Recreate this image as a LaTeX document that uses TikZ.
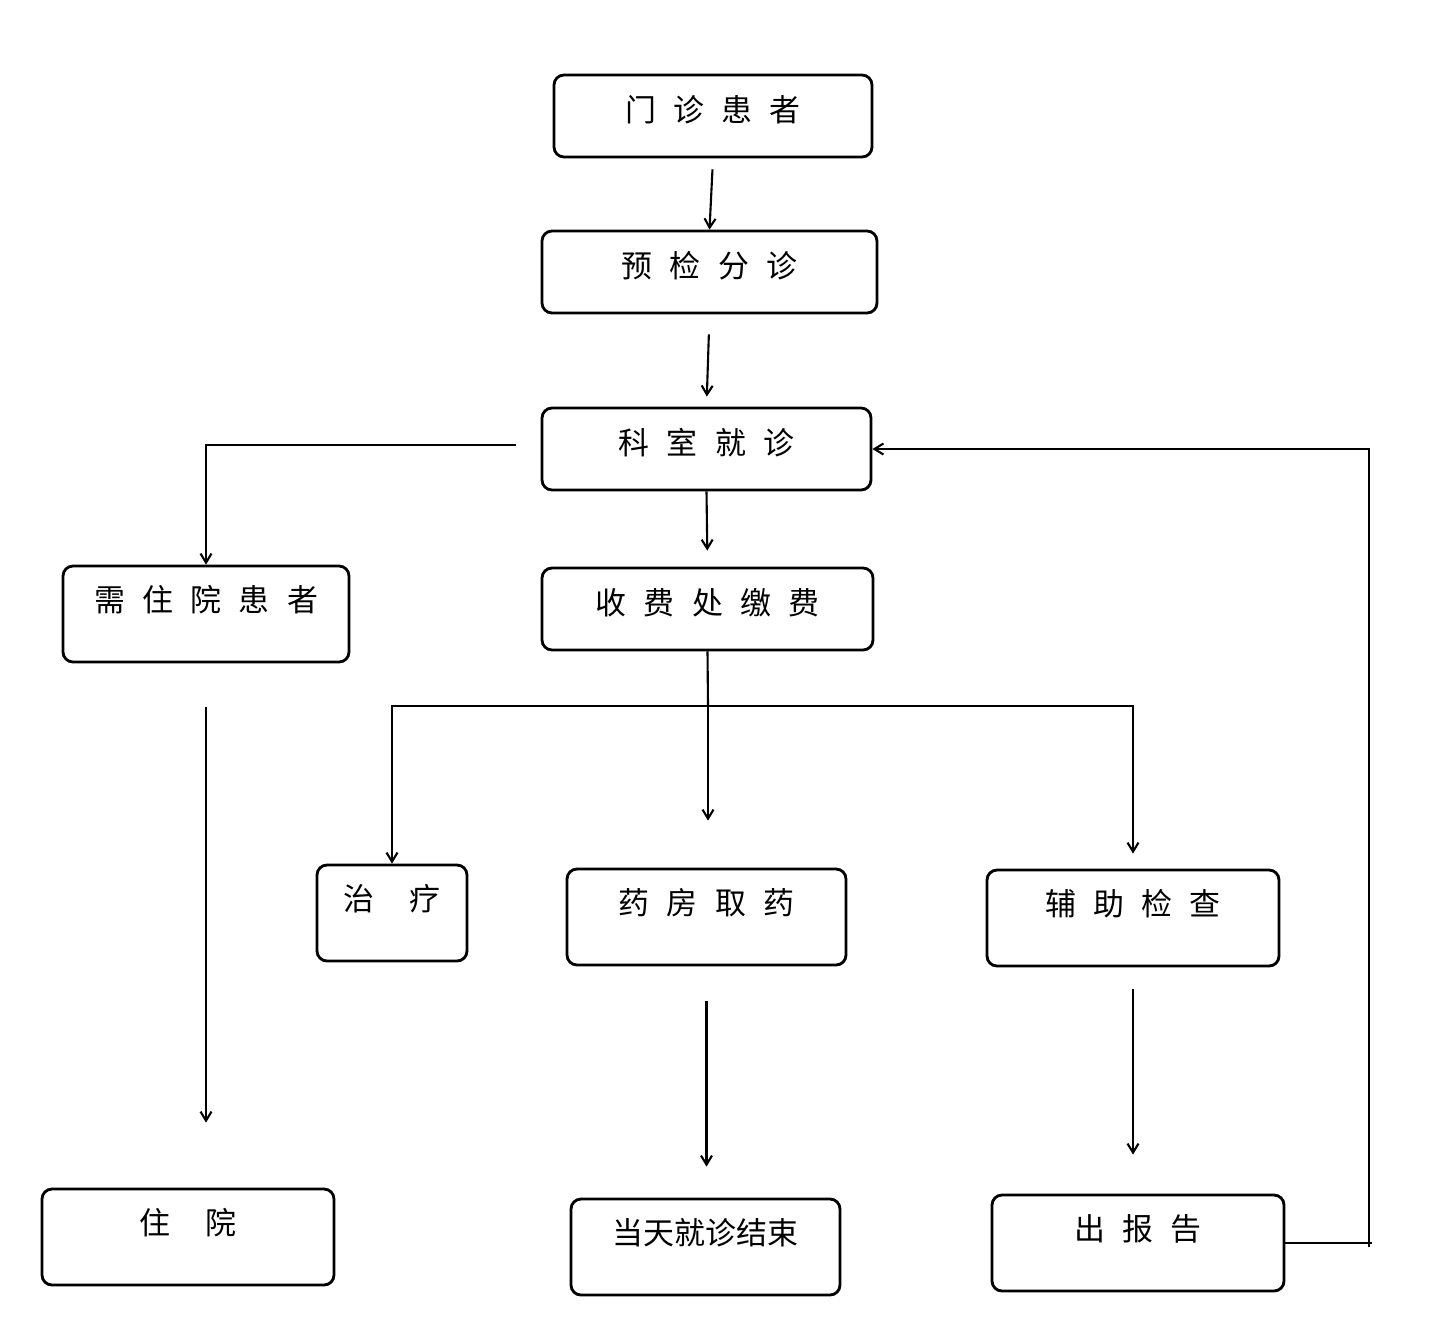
\documentclass[tikz,border=0pt]{standalone}
\usepackage{fontspec}
\newfontfamily\cjk[WordSpace=2.5]{Noto Sans CJK SC}
\usetikzlibrary{arrows.meta}
\tikzset{
  box/.style={draw=black, thick, rounded corners=0.1cm, inner sep=0pt,
    font=\cjk\fontsize{8.8pt}{10pt}\selectfont, text height=0.24cm,
    minimum height=0.82cm, text depth=0.124cm},
  tallbox/.style={box, minimum height=0.96cm, text depth=0.284cm},
  arr/.style={semithick, -{Straight Barb[length=0.09cm,width=0.11cm]}},
  line/.style={semithick}
}
\begin{document}
\begin{tikzpicture}
\useasboundingbox (0,0) rectangle (14.47,-13.36);

% boxes
\node [box, minimum width=3.18cm] (men) at (7.13,-1.16) {门 诊 患 者};
\node [box, minimum width=3.35cm] (yujian) at (7.095,-2.72) {预 检 分 诊};
\node [box, minimum width=3.29cm] (keshi) at (7.065,-4.49) {科 室 就 诊};
\node [tallbox, minimum width=2.86cm] (xuzhu) at (2.06,-6.14) {需 住 院 患 者};
\node [box, minimum width=3.31cm] (shoufei) at (7.075,-6.09) {收 费 处 缴 费};
\node [tallbox, minimum width=1.50cm] (zhiliao) at (3.92,-9.13) {治~~疗};
\node [tallbox, minimum width=2.79cm] (yaofang) at (7.065,-9.17) {药 房 取 药};
\node [tallbox, minimum width=2.92cm] (fuzhu) at (11.33,-9.18) {辅 助 检 查};
\node [tallbox, minimum width=2.92cm] (zhuyuan) at (1.88,-12.37) {住~~院};
\node [tallbox, minimum width=2.69cm] (jieshu) at (7.055,-12.47) {当天就诊结束};
\node [tallbox, minimum width=2.92cm] (baogao) at (11.38,-12.43) {出 报 告};

\coordinate (fork) at (7.08,-7.06);
\coordinate (loop) at (13.69,-12.43);

% arrows
\draw [arr, shorten <=0.11cm] (men.south) -- (yujian.north);
\draw [arr, shorten <=0.2cm, shorten >=0.1cm] (yujian.south) -- (keshi.north);
\draw [arr, shorten <=0.25cm] ([yshift=0.04cm]keshi.west) -| (xuzhu.north);
\draw [arr, shorten >=0.16cm] (keshi.south) -- (shoufei.north);
\draw [line] (shoufei.south) -- (fork);
\draw [arr] (fork) -| (zhiliao.north);
\draw [arr, shorten >=0.47cm] (fork) -- (fork |- yaofang.north);
\draw [arr, shorten >=0.15cm] (fork) -| (fuzhu.north);
\draw [arr, shorten <=0.44cm, shorten >=0.65cm] (xuzhu.south) -- (xuzhu.south |- zhuyuan.north);
\draw [arr, shorten <=0.35cm, shorten >=0.31cm] (yaofang.south) -- (yaofang.south |- jieshu.north);
\draw [arr, shorten <=0.22cm, shorten >=0.39cm] (fuzhu.south) -- (fuzhu.south |- baogao.north);

% back to keshi
\draw [line] (baogao.east) -- ([xshift=0.03cm]loop);
\draw [arr] ([yshift=-0.04cm]loop) |- (keshi.east);

\end{tikzpicture}
\end{document}
